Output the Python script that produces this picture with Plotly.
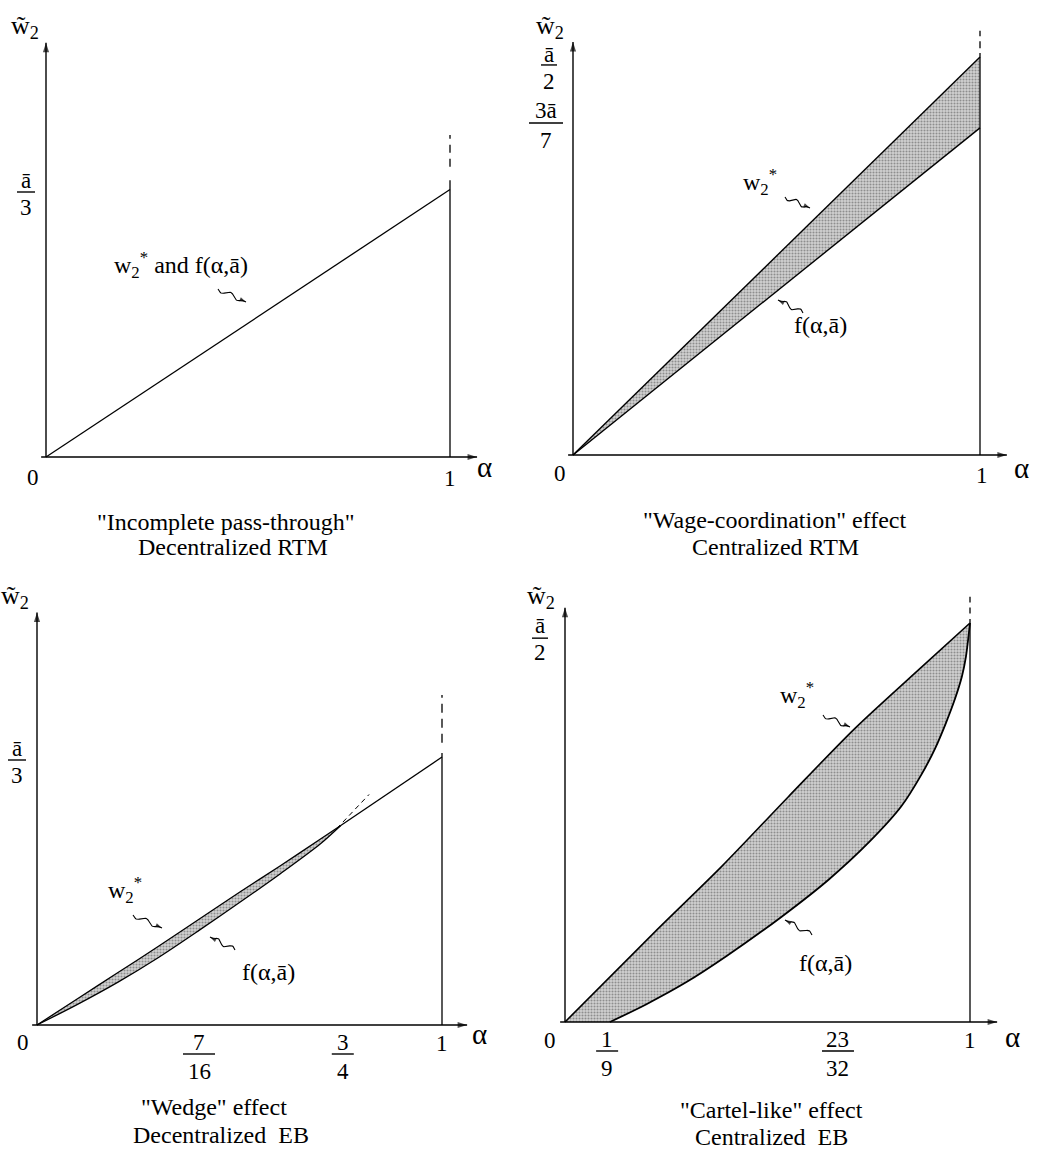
import math
import plotly.graph_objects as go

W, H = 1042, 1164
FONT = "Liberation Serif"

# ---------------- data: α on x, wage in units of ā on y ----------------
# Panel 1 "Incomplete pass-through" (w2* and f coincide)
p1_alpha = [0.0, 1.0]
p1_w = [0.0, 0.3365]

# Panel 2 "Wage-coordination"
p2_alpha = [0.0, 1.0]
p2_w_star = [0.0, 0.500]
p2_f = [0.0, 0.411]

# Panel 3 "Wedge"
p3_alpha = [0.0, 0.1, 0.2, 0.3, 0.4, 0.5, 0.6, 0.7, 0.75]
p3_w_star = [0.0, 0.033, 0.066, 0.099, 0.133, 0.167, 0.200, 0.234, 0.251]
p3_f = [0.0, 0.026, 0.054, 0.085, 0.119, 0.154, 0.190, 0.228, 0.251]
p3_tail_alpha = [0.75, 1.0]
p3_tail = [0.251, 0.337]
p3_ext_alpha = [0.74, 0.82]
p3_ext = [0.247, 0.290]

# Panel 4 "Cartel-like"
p4_w_alpha = [0.0, 0.222, 0.387, 0.551, 0.716, 0.881, 1.0]
p4_w_star = [0.0, 0.113, 0.195, 0.282, 0.368, 0.445, 0.500]
p4_f_alpha = [0.111, 0.2, 0.3, 0.4, 0.535, 0.65, 0.75, 0.83, 0.88, 0.914, 0.94, 0.963, 0.98, 0.99, 1.0]
p4_f = [0.0, 0.022, 0.050, 0.083, 0.132, 0.178, 0.225, 0.270, 0.310, 0.343, 0.374, 0.405, 0.433, 0.458, 0.500]

# tick labels (fractions: numerator, denominator) and their positions
p1_ytick = [1 / 3]; p1_ytick_lab = [("ā", "3")]
p2_ytick = [0.49, 0.417]; p2_ytick_lab = [("ā", "2"), ("3ā", "7")]
p3_ytick = [1 / 3]; p3_ytick_lab = [("ā", "3")]
p4_ytick = [0.481]; p4_ytick_lab = [("ā", "2")]
p3_xtick = [0.40, 0.755]; p3_xtick_lab = [("7", "16"), ("3", "4")]
p4_xtick = [0.104, 0.674]; p4_xtick_lab = [("1", "9"), ("23", "32")]

captions = [
    ('"Incomplete pass-through"', "Decentralized RTM"),
    ('"Wage-coordination" effect', "Centralized RTM"),
    ('"Wedge" effect', "Decentralized  EB"),
    ('"Cartel-like" effect', "Centralized  EB"),
]

# ---------------- geometry (pixel origin, px per α, px per ā, pixel box) ----------------
panels = [
    dict(o=(46, 457), sx=404, sy=795, box=(0, 521, 0, 582)),
    dict(o=(573, 455), sx=407, sy=796, box=(521, 1042, 0, 582)),
    dict(o=(37, 1025), sx=405, sy=795, box=(0, 521, 582, 1164)),
    dict(o=(565, 1022), sx=405, sy=798, box=(521, 1042, 582, 1164)),
]

fig = go.Figure()
layout = dict(width=W, height=H, margin=dict(l=0, r=0, t=0, b=0), autosize=False,
              paper_bgcolor="white", plot_bgcolor="white", showlegend=False)
for i, p in enumerate(panels):
    ox, oy = p["o"]; sx, sy = p["sx"], p["sy"]
    x0, x1, y0, y1 = p["box"]
    sfx = "" if i == 0 else str(i + 1)
    layout["xaxis" + sfx] = dict(domain=[x0 / W, x1 / W], range=[(x0 - ox) / sx, (x1 - ox) / sx],
                                 visible=False, fixedrange=True, anchor="y" + sfx)
    layout["yaxis" + sfx] = dict(domain=[1 - y1 / H, 1 - y0 / H], range=[(oy - y1) / sy, (oy - y0) / sy],
                                 visible=False, fixedrange=True, anchor="x" + sfx)
    p["xr"] = "x" + sfx
    p["yr"] = "y" + sfx
fig.update_layout(**layout)

annotations = []
shapes = []
PATTERN = dict(shape=".", fgcolor="#4a4a4a", bgcolor="#d2d2d2", size=3, solidity=0.4)


def spl(shape):
    return 0.8 if shape == "spline" else None


def line(pi, x, y, width=1.3, dash=None, shape="linear"):
    p = panels[pi]
    fig.add_trace(go.Scatter(x=x, y=y, mode="lines", xaxis=p["xr"], yaxis=p["yr"],
                             line=dict(color="black", width=width, dash=dash, shape=shape,
                                       smoothing=spl(shape)),
                             hoverinfo="skip"))


def band(pi, xu, yu, xl, yl, shape="linear"):
    """stippled area between the lower curve and the upper curve"""
    p = panels[pi]
    fig.add_trace(go.Scatter(x=xl, y=yl, mode="lines", xaxis=p["xr"], yaxis=p["yr"],
                             line=dict(width=0, shape=shape, smoothing=spl(shape)),
                             hoverinfo="skip"))
    fig.add_trace(go.Scatter(x=xu, y=yu, mode="lines", fill="tonexty", xaxis=p["xr"], yaxis=p["yr"],
                             line=dict(width=0, shape=shape, smoothing=spl(shape)),
                             fillcolor="rgba(0,0,0,0)", fillpattern=PATTERN, hoverinfo="skip"))


def arrow(pi, xs, ys, width=1.3, size=9):
    """poly-line ending in a filled arrow head (marker oriented along last segment)"""
    p = panels[pi]
    fig.add_trace(go.Scatter(x=xs, y=ys, mode="lines", xaxis=p["xr"], yaxis=p["yr"],
                             line=dict(color="black", width=width), hoverinfo="skip"))
    fig.add_trace(go.Scatter(x=xs[-2:], y=ys[-2:], mode="markers", xaxis=p["xr"], yaxis=p["yr"],
                             marker=dict(symbol="arrow", angleref="previous", size=[0, size],
                                         color="black", line=dict(width=0)),
                             hoverinfo="skip"))


def text(x, y, s, size=22, xref="paper", yref="paper", xshift=0, yshift=0, xanchor="center"):
    if xref == "paper":
        x = x / W
    if yref == "paper":
        y = 1 - y / H
    annotations.append(dict(x=x, y=y, xref=xref, yref=yref, text=s, showarrow=False,
                            xanchor=xanchor, yanchor="middle", xshift=xshift, yshift=yshift,
                            font=dict(family=FONT, size=size, color="black")))


def axes_arrows(pi, ytop, xtip):
    arrow(pi, [0, 0], [0, ytop], 1.4, 10)
    arrow(pi, [-0.012, xtip], [0, 0], 1.4, 10)


def yfrac(pi, yv, num, den, dx, up, down, half, size=23):
    p = panels[pi]
    text(0, yv, num, size, p["xr"], p["yr"], xshift=dx, yshift=up)
    text(0, yv, den, size, p["xr"], p["yr"], xshift=dx, yshift=-down)
    shapes.append(dict(type="line", xref=p["xr"], yref=p["yr"], xsizemode="pixel", xanchor=0,
                       x0=dx - half, x1=dx + half, y0=yv, y1=yv, line=dict(color="black", width=1.4)))


def xfrac(pi, xv, num, den, size=23):
    p = panels[pi]
    text(xv, 0, num, size, p["xr"], p["yr"], yshift=-17)
    text(xv, 0, den, size, p["xr"], p["yr"], yshift=-46)
    half = 6 + 5 * max(len(num), len(den))
    shapes.append(dict(type="line", xref=p["xr"], yref=p["yr"], xsizemode="pixel", xanchor=xv,
                       ysizemode="pixel", yanchor=0,
                       x0=-half, x1=half, y0=-29, y1=-29, line=dict(color="black", width=1.4)))


def squiggle(pi, x0, y0, x1, y1):
    """wavy pointer from pixel (x0,y0) to pixel tip (x1,y1), drawn in panel data units"""
    p = panels[pi]
    ox, oy = p["o"]
    n = 36
    dx, dy = x1 - x0, y1 - y0
    L = math.hypot(dx, dy)
    ux, uy = dx / L, dy / L
    nx, ny = -uy, ux
    xs, ys = [], []
    for k in range(n + 1):
        t = k / n * 0.85
        a = 2.3 * math.sin(2 * math.pi * 1.5 * t / 0.85)
        px = x0 + dx * t + nx * a
        py = y0 + dy * t + ny * a
        xs.append((px - ox) / p["sx"]); ys.append((oy - py) / p["sy"])
    xs.append((x1 - ox) / p["sx"]); ys.append((oy - y1) / p["sy"])
    arrow(pi, xs, ys, 1.1, 7)


# ---------------- shaded bands (drawn first) ----------------
band(1, p2_alpha, p2_w_star, p2_alpha, p2_f)
band(2, p3_alpha, p3_w_star, p3_alpha, p3_f, "spline")
band(3, p4_w_alpha, p4_w_star, p4_f_alpha, p4_f, "spline")

# ---------------- Panel 1 ----------------
line(0, p1_alpha, p1_w)
line(0, [1, 1], [0, 0.348])
line(0, [1, 1], [0.365, 0.405], dash="8px,6px")
axes_arrows(0, 0.521, 1.067)

# ---------------- Panel 2 ----------------
line(1, p2_alpha, p2_w_star, 1.4)
line(1, p2_alpha, p2_f, 1.4)
line(1, [1, 1], [0, 0.505])
line(1, [1, 1], [0.511, 0.533], dash="7px,5px")
axes_arrows(1, 0.519, 1.066)

# ---------------- Panel 3 ----------------
line(2, p3_alpha, p3_w_star, 1.3, shape="spline")
line(2, p3_alpha, p3_f, 1.3, shape="spline")
line(2, p3_tail_alpha, p3_tail, 1.3)
line(2, p3_ext_alpha, p3_ext, 1.0, dash="5px,4px")
line(2, [1, 1], [0, 0.342])
line(2, [1, 1], [0.355, 0.415], dash="9px,6px")
axes_arrows(2, 0.519, 1.062)

# ---------------- Panel 4 ----------------
line(3, p4_w_alpha, p4_w_star, 1.6, shape="spline")
line(3, p4_f_alpha, p4_f, 1.8, shape="spline")
line(3, [1, 1], [0, 0.505])
line(3, [1, 1], [0.512, 0.533], dash="6px,5px")
axes_arrows(3, 0.519, 1.067)

# ---------------- tick labels ----------------
yfrac(0, p1_ytick[0], *p1_ytick_lab[0], dx=-20, up=12, down=15, half=9)
yfrac(1, p2_ytick[0], *p2_ytick_lab[0], dx=-24, up=10, down=17, half=8)
yfrac(1, p2_ytick[1], *p2_ytick_lab[1], dx=-27, up=13, down=17, half=17)
yfrac(2, p3_ytick[0], *p3_ytick_lab[0], dx=-20, up=12, down=15, half=9)
yfrac(3, p4_ytick[0], *p4_ytick_lab[0], dx=-25, up=13, down=14, half=8)
for v, (n, d) in zip(p3_xtick, p3_xtick_lab):
    xfrac(2, v, n, d)
for v, (n, d) in zip(p4_xtick, p4_xtick_lab):
    xfrac(3, v, n, d)

# "0" and "1" on each x axis, α, w̃2
ends = [
    ((33, 477), (450, 478), (484, 470), (25, 27)),
    ((560, 473), (982, 475), (1021, 471), (550, 27)),
    ((23, 1042), (442, 1043), (479, 1037), (15, 597)),
    ((550, 1040), (970, 1040), (1012, 1040), (541, 597)),
]
for (z, o, a, w) in ends:
    text(*z, "0", 23)
    text(*o, "1", 23)
    text(a[0], a[1] - 3, "α", 29)
    text(*w, "w̃<sub>2</sub>", 26)

# captions
cap_pos = [((226, 522), (233, 547)), ((774, 520), (775, 547)),
           ((214, 1107), (221, 1135)), ((771, 1110), (771, 1137))]
for (l1, l2), ((x1, y1), (x2, y2)) in zip(captions, cap_pos):
    text(x1, y1, l1, 24)
    text(x2, y2, l2, 24)

# curve labels
W2S = "w<sub>2</sub><sup>*</sup>"
FAB = "f(α,ā)"
text(181, 265, W2S + " and " + FAB, 24)
text(760, 182, W2S, 24)
text(820, 325, FAB, 24)
text(125, 890, W2S, 24)
text(268, 972, FAB, 24)
text(797, 695, W2S, 24)
text(825, 963, FAB, 24)

squiggle(0, 218, 289, 246, 302)
squiggle(1, 785, 197, 810, 208)
squiggle(1, 803, 313, 778, 300)
squiggle(2, 133, 915, 162, 928)
squiggle(2, 235, 950, 210, 937)
squiggle(3, 823, 715, 850, 727)
squiggle(3, 812, 935, 785, 920)

fig.update_layout(annotations=annotations, shapes=shapes)
fig.write_html("out.html", config={"displayModeBar": False},
               post_script="document.body.style.margin='0';")
